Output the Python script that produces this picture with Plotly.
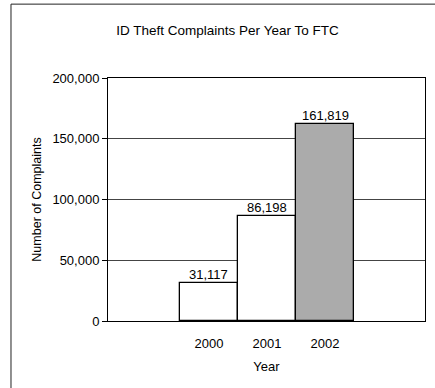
import plotly.graph_objects as go

# Identity theft complaints filed with the FTC, by year
years = [2000, 2001, 2002]
complaints = [31117, 86198, 161819]
value_labels = ["31,117", "86,198", "161,819"]
y_ticks = [0, 50000, 100000, 150000, 200000]
y_tick_labels = ["0", "50,000", "100,000", "150,000", "200,000"]

FONT = "Liberation Sans, Arial, sans-serif"

fig = go.Figure()
fig.add_trace(go.Bar(
    x=years,
    y=complaints,
    width=[1, 1, 1],
    marker=dict(
        color=["white", "white", "#c4c4c4"],
        line=dict(color="black", width=1.3),
        pattern=dict(
            shape=["", "", "."],
            fgcolor="#7a7a7a",
            size=2,
            solidity=0.45,
            fillmode="overlay",
        ),
    ),
    hoverinfo="skip",
))

# Value labels sitting right on top of each bar
for yr, val, lab in zip(years, complaints, value_labels):
    fig.add_annotation(
        x=yr, y=val, text=lab, showarrow=False,
        xanchor="center", yanchor="bottom", yshift=-1,
        font=dict(family=FONT, size=13, color="black"),
    )

# Outer chart frame (left and top edges)
fig.add_shape(
    type="path",
    xref="paper", yref="paper",
    path="M -0.306,-0.3 L -0.306,1.304 L 1.05,1.304",
    line=dict(color="#222", width=1),
)

fig.update_layout(
    width=435,
    height=388,
    margin=dict(l=108, r=10, t=78, b=67),
    paper_bgcolor="white",
    plot_bgcolor="white",
    showlegend=False,
    font=dict(family=FONT, size=13, color="black"),
    title=dict(
        text="ID Theft Complaints Per Year To FTC",
        x=(115 + 340) / 2 / 435, xref="container", xanchor="center",
        y=1 - 30 / 388, yref="container", yanchor="middle",
        font=dict(family=FONT, size=13.5, color="black"),
    ),
    bargap=0,
)

fig.update_xaxes(
    range=[2000 - 1.741, 2002 + 1.724],
    tickvals=years,
    ticktext=[str(y) for y in years],
    ticks="",
    ticklabelstandoff=10,
    showgrid=False,
    showline=True,
    linecolor="black",
    linewidth=1,
    mirror=True,
    zeroline=False,
    tickfont=dict(family=FONT, size=13, color="black"),
    title=dict(text="Year", font=dict(family=FONT, size=13, color="black"), standoff=12),
)

fig.update_yaxes(
    range=[0, 200000],
    tickvals=y_ticks,
    ticktext=y_tick_labels,
    ticks="outside",
    ticklen=5,
    tickcolor="black",
    showgrid=True,
    gridcolor="#444",
    gridwidth=1,
    showline=True,
    linecolor="black",
    linewidth=1,
    mirror=True,
    zeroline=False,
    tickfont=dict(family=FONT, size=13, color="black"),
    title=dict(text="Number of Complaints", font=dict(family=FONT, size=12.5, color="black"), standoff=8),
)

fig.write_html("out.html")
